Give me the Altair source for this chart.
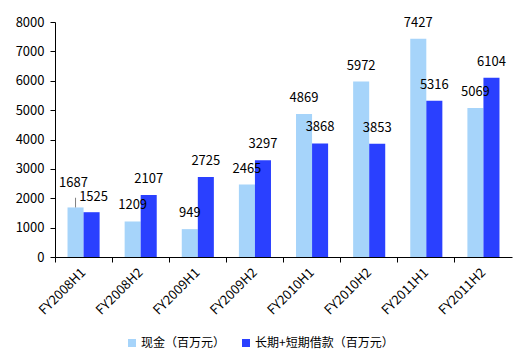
import altair as alt
import pandas as pd

categories = ["FY2008H1", "FY2008H2", "FY2009H1", "FY2009H2", "FY2010H1", "FY2010H2", "FY2011H1", "FY2011H2"]
cash = [1687, 1209, 949, 2465, 4869, 5972, 7427, 5069]
debt = [1525, 2107, 2725, 3297, 3868, 3853, 5316, 6104]
series = ["现金（百万元）", "长期+短期借款（百万元）"]
colors = ["#A6D4FA", "#2A40FF"]

rows = []
for c, a, b in zip(categories, cash, debt):
    rows.append({"cat": c, "series": series[0], "value": a})
    rows.append({"cat": c, "series": series[1], "value": b})
df = pd.DataFrame(rows)

FONT = "Noto Sans CJK SC"

base = alt.Chart(df).encode(
    x=alt.X("cat:N", sort=categories, title=None,
            scale=alt.Scale(paddingInner=0, paddingOuter=0),
            axis=alt.Axis(labelAngle=-45, labelAlign="right", labelBaseline="middle",
                          bandPosition=0, domainColor="black", tickColor="black",
                          tickSize=5, labelFontSize=13, labelFont=FONT, labelColor="black",
                          labelPadding=8, grid=False)),
    xOffset=alt.XOffset("series:N", sort=series,
                        scale=alt.Scale(paddingInner=0, paddingOuter=0.78)),
    y=alt.Y("value:Q", title=None,
            scale=alt.Scale(domain=[0, 8000], nice=False),
            axis=alt.Axis(values=list(range(0, 8001, 1000)), format="d", domainColor="black",
                          tickColor="black", tickSize=5, labelFontSize=13, labelFont=FONT,
                          labelColor="black", labelPadding=6, grid=False)),
)

bars = base.mark_bar().encode(
    color=alt.Color("series:N", sort=series,
                    scale=alt.Scale(domain=series, range=colors),
                    legend=alt.Legend(title=None, orient="none", legendX=71, legendY=315,
                                      direction="horizontal", columns=2, columnPadding=14,
                                      symbolType="square", symbolSize=64, symbolStrokeWidth=0,
                                      labelFontSize=12, labelFont=FONT, labelColor="black",
                                      labelOffset=3))
)

is_first_cash = (alt.datum.cat == categories[0]) & (alt.datum.series == series[0])
is_first_debt = (alt.datum.cat == categories[0]) & (alt.datum.series == series[1])

labels = base.mark_text(dy=-16, fontSize=13, font=FONT, color="black").encode(
    text=alt.Text("value:Q", format="d")
).transform_filter(~is_first_cash & ~is_first_debt)

first_label = base.mark_text(dy=-24, dx=-2, fontSize=13, font=FONT, color="black").encode(
    text=alt.Text("value:Q", format="d")
).transform_filter(is_first_cash)

second_label = base.mark_text(dy=-15, dx=2, fontSize=13, font=FONT, color="black").encode(
    text=alt.Text("value:Q", format="d")
).transform_filter(is_first_debt)

leader = base.mark_rule(color="#7F7F7F", strokeWidth=1).encode(
    y2="top:Q"
).transform_filter(is_first_cash).transform_calculate(top="datum.value + 330")

chart = (bars + leader + labels + first_label + second_label).properties(
    width=457, height=235,
    autosize=alt.AutoSizeParams(type="none"),
    padding={"left": 55, "top": 22, "right": 7, "bottom": 97},
    background="white",
).configure_view(stroke=None)

chart.save("out.html", embed_options={"renderer": "svg", "actions": False})
